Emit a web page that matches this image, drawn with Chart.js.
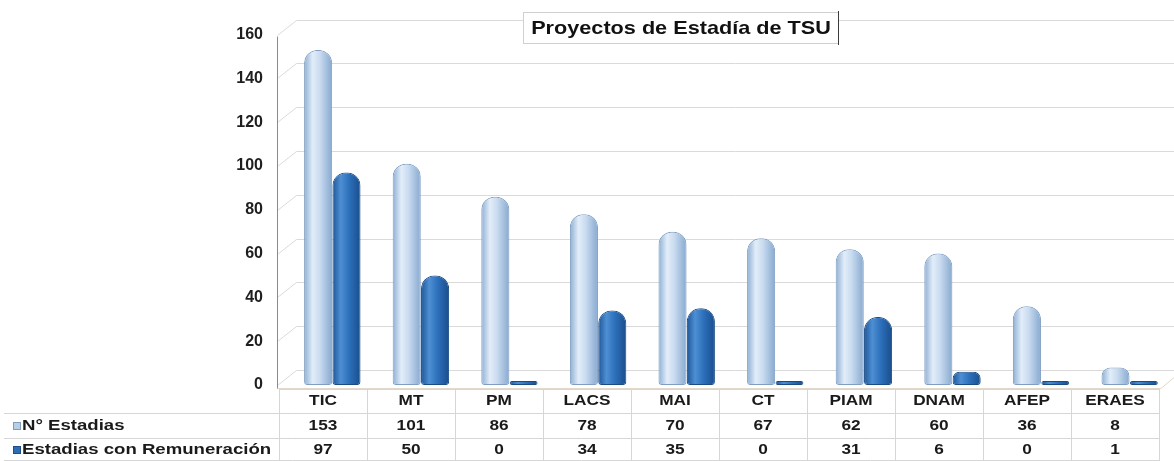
<!DOCTYPE html>
<html lang="es">
<head>
<meta charset="UTF-8">
<title>Proyectos de Estadía de TSU</title>
<script src="https://cdn.jsdelivr.net/npm/chart.js"></script>
<style>
  html, body { margin: 0; padding: 0; background: #fff; }
  #marco { width: 1174px; height: 461px; position: relative; }
</style>
</head>
<body>
<div id="marco"><canvas id="grafico"></canvas></div>
<script>
// datos
const categorias = ['TIC', 'MT', 'PM', 'LACS', 'MAI', 'CT', 'PIAM', 'DNAM', 'AFEP', 'ERAES'];
const estadias = [153, 101, 86, 78, 70, 67, 62, 60, 36, 8];
const remuneradas = [97, 50, 0, 34, 35, 0, 31, 6, 0, 1];
const nombresSeries = ['N° Estadias', 'Estadias con Remuneración'];
const ticksY = [0, 20, 40, 60, 80, 100, 120, 140, 160];
const titulo = 'Proyectos de Estadía de TSU';

const FUENTE = '"Liberation Sans", Arial, sans-serif';
const MEDIA_BARRA = 14;

// degradado horizontal para simular cilindros
function cilindro(paradas, plano) {
  return function (c) {
    const chart = c.chart;
    if (!chart.chartArea || c.type !== 'data') return plano;
    const x = chart.scales.x;
    const centro = x.getPixelForValue(c.dataIndex) + (c.datasetIndex === 0 ? -MEDIA_BARRA : MEDIA_BARRA);
    const g = chart.ctx.createLinearGradient(centro - MEDIA_BARRA, 0, centro + MEDIA_BARRA, 0);
    paradas.forEach(p => g.addColorStop(p[0], p[1]));
    return g;
  };
}

function texto(ctx, str, x, y, alinear, sx) {
  ctx.save();
  ctx.translate(x, y);
  ctx.scale(sx, 1);
  ctx.textAlign = alinear;
  ctx.textBaseline = 'middle';
  ctx.fillText(str, 0, 0);
  ctx.restore();
}

// paredes y piso en perspectiva
const fondo3d = {
  id: 'fondo3d',
  beforeDatasetsDraw(chart) {
    const { ctx, scales: { y } } = chart;
    const eje = 277.5, dx = 19, dy = 15;
    ctx.save();
    ctx.lineWidth = 1;
    ctx.strokeStyle = '#dadada';
    ticksY.forEach(v => {
      const py = Math.round(y.getPixelForValue(v)) + 0.5;
      ctx.beginPath();
      ctx.moveTo(eje, py);
      ctx.lineTo(eje + dx, py - dy);
      ctx.lineTo(1174, py - dy);
      ctx.stroke();
    });
    // borde frontal del piso
    const piso = Math.round(y.getPixelForValue(0)) + 3.5;
    ctx.strokeStyle = '#e2d8cc';
    ctx.beginPath();
    ctx.moveTo(eje, piso);
    ctx.lineTo(1161, piso);
    ctx.lineTo(1174, piso - 11);
    ctx.stroke();
    // eje vertical
    ctx.strokeStyle = '#8a8a8a';
    ctx.beginPath();
    ctx.moveTo(eje, y.getPixelForValue(160) + 2);
    ctx.lineTo(eje, piso);
    ctx.stroke();
    ctx.restore();
  }
};

// titulo con recuadro y tabla de datos
const tablaYTitulo = {
  id: 'tablaYTitulo',
  afterDraw(chart) {
    const { ctx } = chart;
    ctx.save();

    // titulo
    ctx.fillStyle = '#fff';
    ctx.fillRect(523, 12, 315, 31);
    ctx.strokeStyle = '#d0d0d0';
    ctx.lineWidth = 1;
    ctx.strokeRect(523.5, 12.5, 315, 31);
    ctx.strokeStyle = '#3c3c3c';
    ctx.beginPath();
    ctx.moveTo(838.5, 11);
    ctx.lineTo(838.5, 45);
    ctx.stroke();
    ctx.fillStyle = '#111';
    ctx.font = 'bold 19px ' + FUENTE;
    texto(ctx, titulo, 681, 29, 'center', 1.14);

    // tabla (columnas en el plano frontal)
    const izq = 279, ancho = 88;
    const lineasH = [389, 413, 438, 460];
    const filasY = [401, 426, 450];

    ctx.strokeStyle = '#d6d6d6';
    lineasH.forEach((ly, i) => {
      ctx.beginPath();
      ctx.moveTo(i === 0 ? izq : 4, ly + 0.5);
      ctx.lineTo(izq + ancho * categorias.length, ly + 0.5);
      ctx.stroke();
    });
    for (let i = 0; i <= categorias.length; i++) {
      const lx = Math.round(izq + ancho * i) + 0.5;
      ctx.beginPath();
      ctx.moveTo(lx, 389);
      ctx.lineTo(lx, 461);
      ctx.stroke();
    }

    ctx.fillStyle = '#1a1a1a';
    ctx.font = 'bold 15px ' + FUENTE;
    categorias.forEach((cat, i) => {
      const cx = izq + ancho * (i + 0.5);
      texto(ctx, cat, cx, filasY[0], 'center', 1.15);
      texto(ctx, String(estadias[i]), cx, filasY[1], 'center', 1.15);
      texto(ctx, String(remuneradas[i]), cx, filasY[2], 'center', 1.15);
    });

    // etiquetas de serie con marcador
    const marcas = [['#b9cde3', '#7f9cbd'], ['#2f6db3', '#1d4f8a']];
    nombresSeries.forEach((nom, s) => {
      const fy = filasY[s + 1];
      ctx.fillStyle = marcas[s][0];
      ctx.fillRect(13, fy - 4, 8, 8);
      ctx.strokeStyle = marcas[s][1];
      ctx.strokeRect(13.5, fy - 3.5, 7, 7);
      ctx.fillStyle = '#1a1a1a';
      texto(ctx, nom, 22, fy, 'left', 1.24);
    });

    ctx.restore();
  }
};

const canvas = document.getElementById('grafico');
new Chart(canvas, {
  type: 'bar',
  data: {
    labels: categorias,
    datasets: [{
      label: nombresSeries[0],
      data: estadias,
      backgroundColor: cilindro([[0, '#8fb0d4'], [0.3, '#e2edf9'], [0.55, '#cadcf0'], [1, '#86a8cf']], '#c5d9ee'),
      borderColor: '#7f9ec2',
      borderWidth: 1,
      borderSkipped: false,
      borderRadius: { topLeft: 13, topRight: 13, bottomLeft: 3, bottomRight: 3 },
      categoryPercentage: 0.64,
      barPercentage: 0.99
    }, {
      label: nombresSeries[1],
      data: remuneradas,
      backgroundColor: cilindro([[0, '#1d5597'], [0.3, '#4e8fd3'], [0.6, '#2d70bb'], [1, '#1a4e8c']], '#2e6db5'),
      borderColor: '#1b4b85',
      borderWidth: 1,
      borderSkipped: false,
      borderRadius: { topLeft: 13, topRight: 13, bottomLeft: 3, bottomRight: 3 },
      minBarLength: 4,
      categoryPercentage: 0.64,
      barPercentage: 0.99
    }]
  },
  options: {
    responsive: true,
    maintainAspectRatio: false,
    animation: false,
    layout: { padding: { top: 33, bottom: 76, left: 0, right: 0 } },
    plugins: {
      legend: { display: false },
      title: { display: false },
      tooltip: { enabled: false }
    },
    scales: {
      x: { display: false, offset: true },
      y: {
        min: 0,
        max: 160,
        afterFit: s => { s.width = 288; },
        afterBuildTicks: s => { s.ticks = ticksY.map(v => ({ value: v })); },
        grid: { display: false, drawTicks: false },
        border: { display: false },
        ticks: {
          padding: 25,
          color: '#1f1f1f',
          font: { family: FUENTE, size: 16, weight: 'bold' }
        }
      }
    }
  },
  plugins: [fondo3d, tablaYTitulo]
});
</script>
</body>
</html>
